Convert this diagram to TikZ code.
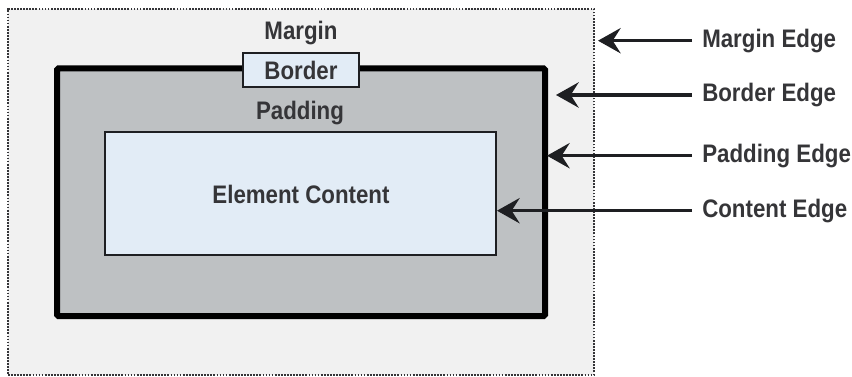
\documentclass[tikz,border=0pt]{standalone}
\usepackage{fontspec}
\newfontfamily\bmfont{Liberation Sans Bold}[FakeStretch=0.88]
\usetikzlibrary{positioning,arrows.meta,fit}
\definecolor{bmmargin}{HTML}{F1F1F1}
\definecolor{bmpad}{HTML}{BEC1C3}
\definecolor{bmcontent}{HTML}{E2ECF6}
\definecolor{bmink}{HTML}{1E1F22}
\tikzset{
  marginbox/.style ={draw=bmink!90, fill=bmmargin, densely dotted, line width=1.3pt, inner sep=0pt},
  borderbox/.style ={draw=black, fill=bmpad, line width=4.5pt, rounded corners=1pt, inner sep=0pt},
  contentbox/.style={draw=bmink, fill=bmcontent, line width=1.9pt, inner sep=0pt},
  tagbox/.style    ={draw=bmink, fill=bmcontent, line width=1.5pt, minimum width=87pt, minimum height=25.5pt, inner sep=0pt},
  boxlbl/.style    ={font=\bmfont\fontsize{19}{23}\selectfont, text=bmink!90, inner sep=0pt},
  edgelbl/.style   ={boxlbl, anchor=west},
  edgearrow/.style ={-{Stealth[length=17pt, width=19pt, inset=6pt]}, line width=2.4pt, draw=bmink},
}
\begin{document}
\begin{tikzpicture}[x=0.75pt, y=-0.75pt]
  \useasboundingbox (0,0) rectangle (852,377);
  % --- nested boxes ---
  \node[marginbox, fit={(8,9) (594,375)}] (margin) {};
  \node[borderbox, fit={(57,68.5) (545,316)}] (border) {};
  \node[contentbox, fit={(105,132) (496,255)}] (content) {};
  \node[tagbox] (tag) at (301,70) {};
  % --- inner labels ---
  \node[boxlbl] (marginlbl) at (301,33) {Margin};
  \node[boxlbl] (taglbl) at (tag) {Border};
  \node[boxlbl] (padlbl) at (300,113.5) {Padding};
  \node[boxlbl] (contentlbl) at (301,194) {Element Content};
  % --- edge labels ---
  \node[edgelbl] (marginedge) at (702,40.7) {Margin Edge};
  \node[edgelbl] (borderedge) at (702,95) {Border Edge};
  \node[edgelbl] (padedge) at (702,155.7) {Padding Edge};
  \node[edgelbl] (contentedge) at (702,210.7) {Content Edge};
  % arrow tips
  \coordinate (mtip) at (598,40.7);
  \coordinate (btip) at (556,95);
  \coordinate (ptip) at (547,155.7);
  \coordinate (ctip) at (497,210.7);
  \draw[edgearrow] ([xshift=-7.5pt]marginedge.west) -- (mtip);
  \draw[edgearrow] ([xshift=-7.5pt]borderedge.west) -- (btip);
  \draw[edgearrow] ([xshift=-7.5pt]padedge.west) -- (ptip);
  \draw[edgearrow] ([xshift=-7.5pt]contentedge.west) -- (ctip);
\end{tikzpicture}
\end{document}
